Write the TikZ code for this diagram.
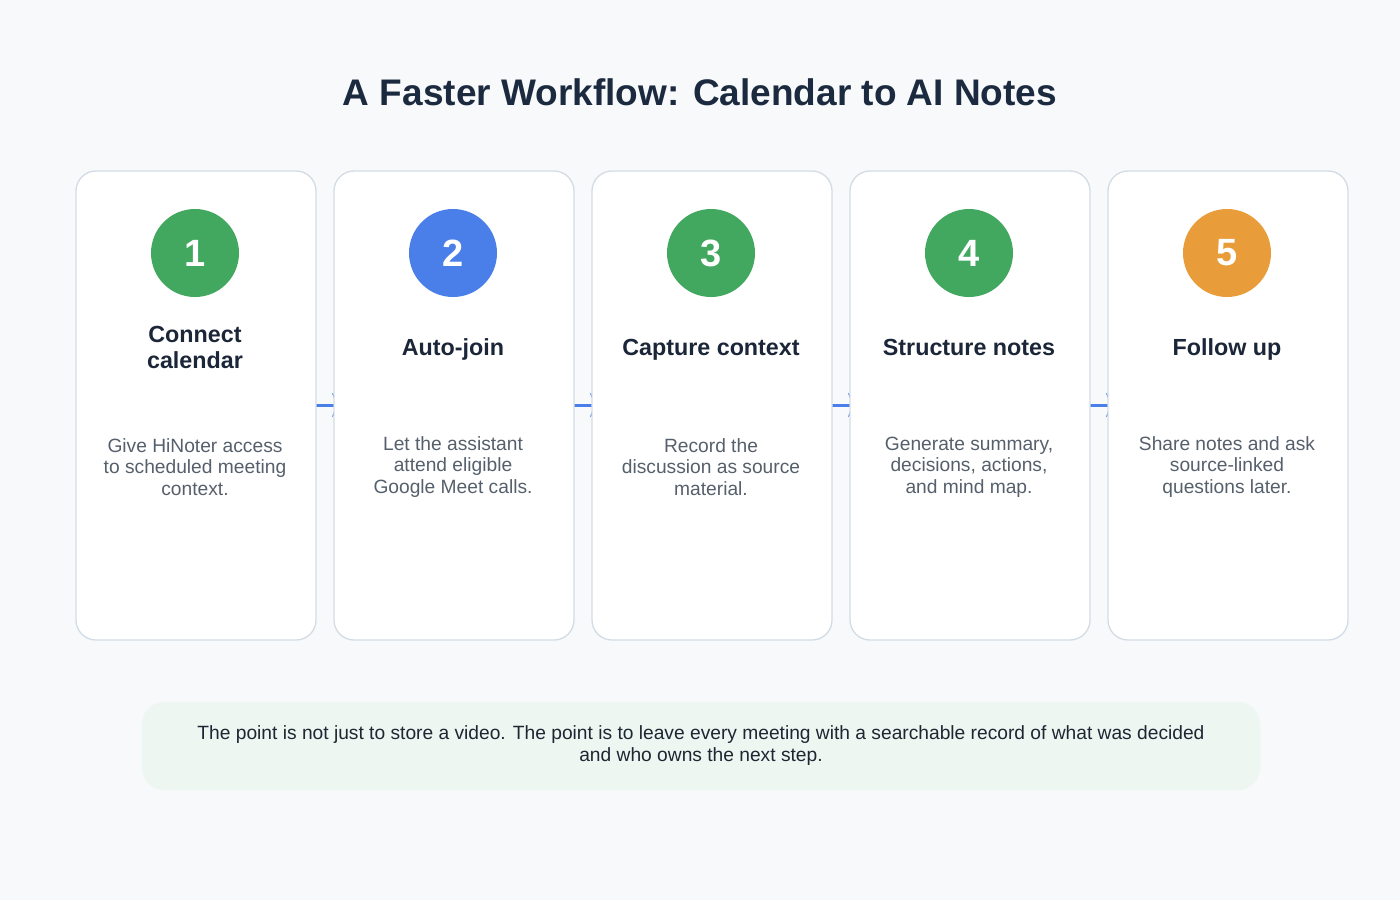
\documentclass[tikz,border=0pt]{standalone}
\usepackage{fontspec}
\setmainfont{Liberation Sans}
\usetikzlibrary{arrows.meta}
\definecolor{bg}{HTML}{F7F9FB}
\definecolor{cardborder}{HTML}{D3DCE4}
\definecolor{titlec}{HTML}{1B2A3E}
\definecolor{headc}{HTML}{1B2638}
\definecolor{bodyc}{HTML}{56606C}
\definecolor{cgreen}{HTML}{43A85F}
\definecolor{cblue}{HTML}{4A7FEA}
\definecolor{corange}{HTML}{E89C3A}
\definecolor{notefill}{HTML}{EDF6F0}
\definecolor{notetext}{HTML}{1D2733}
\definecolor{linkc}{HTML}{4A7FEA}
\tikzset{
  card/.style={draw=cardborder, line width=1.3pt, fill=white, rounded corners=20pt,
    minimum width=240pt, minimum height=469pt, inner sep=0pt},
  badge/.style={circle, minimum size=88pt, inner sep=0pt, text=white,
    font=\fontsize{38}{38}\selectfont\bfseries},
  heading/.style={text=headc, align=center, font=\fontsize{23.3}{26}\selectfont\bfseries},
  body/.style={text=bodyc, align=center, font=\fontsize{19.2}{21.5}\selectfont},
  link/.style={draw=linkc, line width=3pt, -{Stealth[length=14pt,width=24pt]}},
}
\begin{document}
\begin{tikzpicture}[x=1pt,y=-1pt]
\fill[bg] (0,0) rectangle (1400,900);
\useasboundingbox (0,0) rectangle (1400,900);
\node[text=titlec, font=\fontsize{37}{42}\selectfont\bfseries, anchor=base] (title) at (700,105) {A Faster Workflow: Calendar to AI Notes};
% anchor coordinates for links
\coordinate (l1s) at (316,405); \coordinate (l1e) at (346,405);
\coordinate (l2s) at (574,405); \coordinate (l2e) at (604,405);
\coordinate (l3s) at (832,405); \coordinate (l3e) at (862,405);
\coordinate (l4s) at (1090,405); \coordinate (l4e) at (1120,405);
\draw[link] (l1s) -- (l1e);
\draw[link] (l2s) -- (l2e);
\draw[link] (l3s) -- (l3e);
\draw[link] (l4s) -- (l4e);
\node[card] (c1) at (196,405.5) {};
\node[card] (c2) at (454,405.5) {};
\node[card] (c3) at (712,405.5) {};
\node[card] (c4) at (970,405.5) {};
\node[card] (c5) at (1228,405.5) {};
\node[badge, fill=cgreen] (b1) at (195,253) {1};
\node[badge, fill=cblue] (b2) at (453,253) {2};
\node[badge, fill=cgreen] (b3) at (711,253) {3};
\node[badge, fill=cgreen] (b4) at (969,253) {4};
\node[badge, fill=corange] (b5) at (1227,253) {5};
\node[heading] (h1) at (195,347) {Connect\\calendar};
\node[heading, anchor=base] (h2) at (453,355) {Auto-join};
\node[heading, anchor=base] (h3) at (711,355) {Capture context};
\node[heading, anchor=base] (h4) at (969,355) {Structure notes};
\node[heading, anchor=base] (h5) at (1227,355) {Follow up};
\node[body] (t1) at (195,467) {Give HiNoter access\\to scheduled meeting\\context.};
\node[body] (t2) at (453,467) {Let the assistant\\attend eligible\\Google Meet calls.};
\node[body] (t3) at (711,467) {Record the\\discussion as source\\material.};
\node[body] (t4) at (969,467) {Generate summary,\\decisions, actions,\\and mind map.};
\node[body] (t5) at (1227,467) {Share notes and ask\\source-linked\\questions later.};
\node[fill=notefill, rounded corners=22pt, minimum width=1118pt, minimum height=88pt, inner sep=0pt] (note) at (701,746) {};
\node[text=notetext, align=center, font=\fontsize{19.2}{22}\selectfont] (notetxt) at (701,746) {The point is not just to store a video. The point is to leave every meeting with a searchable record of what was decided\\and who owns the next step.};
\end{tikzpicture}
\end{document}
